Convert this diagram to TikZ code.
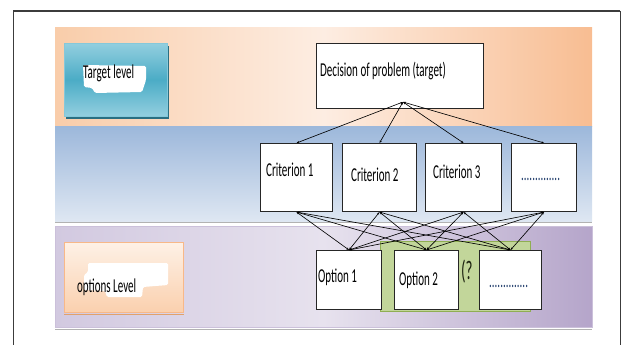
\documentclass[tikz,border=0pt]{standalone}
\usepackage{fontspec}
\setmainfont{Carlito}[FakeStretch=0.56]
\usetikzlibrary{arrows.meta}

\definecolor{frameg}{HTML}{3C3C3C}
\definecolor{ob1}{HTML}{F9CDAA}
\definecolor{ob2}{HTML}{FDEDE2}
\definecolor{ob3}{HTML}{F8BD92}
\definecolor{bb1}{HTML}{9DB8DB}
\definecolor{bb2}{HTML}{DEE7F2}
\definecolor{pb1}{HTML}{D2C9E0}
\definecolor{pb2}{HTML}{E7E2EE}
\definecolor{pb3}{HTML}{B5A5CA}
\definecolor{teal1}{HTML}{93CFDF}
\definecolor{teal2}{HTML}{4BACC6}
\definecolor{teal3}{HTML}{2A6F82}
\definecolor{opt1}{HTML}{FEF1E6}
\definecolor{opt2}{HTML}{FAD0AE}
\definecolor{optline}{HTML}{F8B888}
\definecolor{grn}{HTML}{C2D69A}
\definecolor{grnline}{HTML}{8FAE52}
\definecolor{dotblue}{HTML}{24406E}

\begin{document}
\begin{tikzpicture}[x=0.05cm,y=-0.05cm,
  box/.style={draw=black!85,line width=1.5pt,fill=white,anchor=north west,inner sep=0pt},
  txt/.style={anchor=base west,inner sep=0pt,font=\fontsize{28}{32}\selectfont},
  link/.style={line width=0.9pt,{Stealth[length=4pt,width=3pt]}-{Stealth[length=4pt,width=3pt]}},
  edge/.style={black!30,line width=1pt,dash pattern=on 0.6pt off 0.6pt}
]
\useasboundingbox (0,0) rectangle (622,345);

%%%% frame and bands
%%%%
\draw[frameg,line width=1.4pt] (13,345) -- (13,11) -- (620,11) -- (620,345);
\draw[frameg,line width=2.4pt] (13,11) -- (620,11);

\shade[left color=ob1,right color=ob3,middle color=ob2] (55,28) rectangle (592,127);
\shade[top color=bb1,bottom color=bb2] (55,127) rectangle (592,221);
\draw[edge] (55,222.5) -- (592,222.5);
\shade[left color=pb1,right color=pb3,middle color=pb2] (55,226) rectangle (592,327);
\draw[pb3!70,line width=0.6pt] (55,226) rectangle (592,327);
\draw[edge] (55,329) -- (592,329);

%%%% level boxes
%%%%
\fill[teal3] (66,46) rectangle (169,119);
\node[shade,top color=teal1,bottom color=teal1,middle color=teal2,draw=teal1!80!teal2,
  anchor=north west,inner sep=0pt,minimum width=103*0.05cm,minimum height=73*0.05cm] (tgtbox) at (64,43) {};
\fill[white,rounded corners=2pt] (83,65) -- (146,66) -- (146,80) -- (142,92) -- (95,93) -- (92,88) -- (84,87) -- cycle;
\node[txt] (tgt) at (83,79) {Target level};

\node[shade,top color=opt1,bottom color=opt2,draw=optline,
  anchor=north west,inner sep=0pt,minimum width=119*0.05cm,minimum height=70*0.05cm] (optbox) at (64,242) {};
\draw[optline!60!brown,line width=1pt,dash pattern=on 0.6pt off 0.6pt] (64,314) -- (183,314);
\fill[white,rounded corners=2pt] (88,263) -- (168,263) -- (168,285) -- (143,287) -- (142,297) -- (107,297) -- (105,291) -- (84,290) -- (84,275) -- (88,272) -- cycle;
\node[txt] (opt) at (77,292) {options Level};

%%%% tree
%%%%
\fill[grn,draw=grnline,line width=0.8pt] (380,241) rectangle (530,311);

\node[box,minimum width=167*0.05cm,minimum height=65*0.05cm] (goal) at (316,43) {};
\coordinate (apex) at (403,102);

\foreach[count=\i] \x/\w in {260/72,342/74,425/76,511/65}{
\node[box,minimum width=\w*0.05cm,minimum height=68*0.05cm] (c\i) at (\x,143) {};
}
\foreach[count=\i] \x/\w in {316/65,394/64,479/62}{
\node[box,minimum width=\w*0.05cm,minimum height=59*0.05cm] (o\i) at (\x,250) {};
}

\foreach \u in {1,...,4}{
\draw[link] (c\u.north) -- (apex);
}
\foreach \u in {1,...,4}{
\foreach \v in {1,2,3}{
\draw[link] (c\u.south) -- (o\v.north);
}}

\node[txt] (goaltxt) at (320,77) {Decision of problem (target)};
\foreach[count=\i] \x/\y in {266/176,351/181,433/178}{
\node[txt] (ct\i) at (\x,\y) {Criterion \i};
}
\node[txt,text=dotblue] (ct4) at (521,180) {..............};
\foreach[count=\i] \x/\y in {318/282,399/285}{
\node[txt] (ot\i) at (\x,\y) {Option \i};
}
\node[txt,text=dotblue] (ot3) at (489,287) {..............};
\node[txt,font=\fontsize{38}{42}\selectfont,text=black!80!grnline] (ask) at (461,279) {(?};

\end{tikzpicture}
\end{document}
